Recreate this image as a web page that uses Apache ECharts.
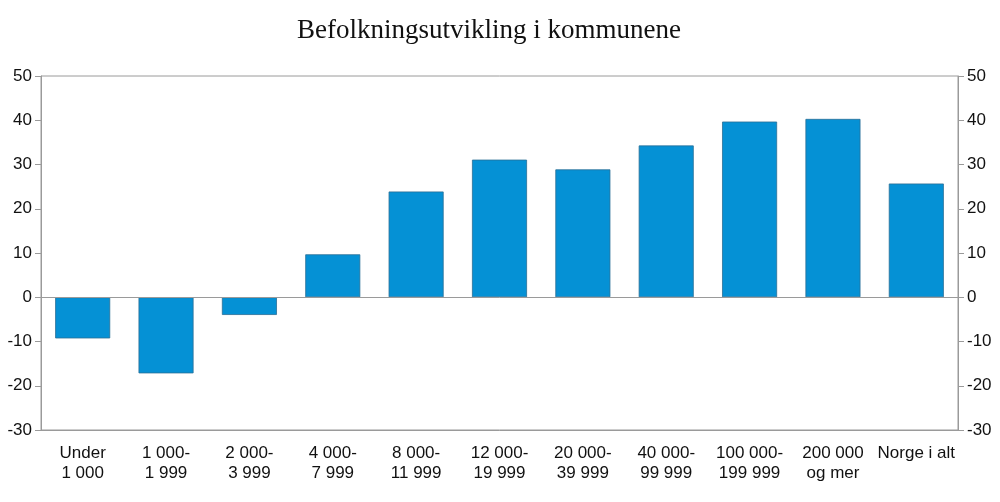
<!DOCTYPE html>
<html>
<head>
<meta charset="utf-8">
<script src="https://cdn.jsdelivr.net/npm/echarts@6/dist/echarts.min.js"></script>
<style>
  html, body { margin: 0; padding: 0; background: #fff; }
  #chart { width: 1000px; height: 502px; }
</style>
</head>
<body>
<div id="chart"></div>
<script>
// Data
const categories = [
  "Under\n1 000",
  "1 000-\n1 999",
  "2 000-\n3 999",
  "4 000-\n7 999",
  "8 000-\n11 999",
  "12 000-\n19 999",
  "20 000-\n39 999",
  "40 000-\n99 999",
  "100 000-\n199 999",
  "200 000\nog mer",
  "Norge i alt"
];
const values = [-9.3, -17.2, -4.0, 9.7, 23.9, 31.1, 28.9, 34.3, 39.7, 40.3, 25.7];

const axisGray = "#9a9a9a";
const font = "'Liberation Sans', Arial, sans-serif";

let dom = document.getElementById("chart");
let myChart = echarts.init(dom, null, { renderer: "canvas" });

function valueAxis(pos) {
  return {
    type: "value",
    position: pos,
    min: -30,
    max: 50,
    interval: 10,
    axisLine: { show: true, lineStyle: { color: axisGray, width: 1 } },
    axisTick: { show: true, length: 6, lineStyle: { color: axisGray } },
    axisLabel: { color: "#111", fontSize: 17, fontFamily: font, margin: 9 },
    splitLine: { show: false }
  };
}

let option = {
  animation: false,
  title: {
    text: "Befolkningsutvikling i kommunene",
    left: 292,
    top: 12,
    textStyle: {
      fontFamily: "'Liberation Serif', 'DejaVu Serif', serif",
      fontWeight: "normal",
      fontSize: 27,
      color: "#111"
    }
  },
  grid: {
    left: 41,
    right: 42,
    top: 76,
    bottom: 72,
    show: true,
    borderColor: axisGray,
    borderWidth: 1,
    containLabel: false
  },
  xAxis: {
    type: "category",
    data: categories,
    axisLine: { onZero: false, lineStyle: { color: axisGray } },
    axisTick: { show: false },
    axisLabel: {
      color: "#111",
      fontSize: 17,
      fontFamily: font,
      lineHeight: 20,
      margin: 13,
      interval: 0
    }
  },
  yAxis: [valueAxis("left"), valueAxis("right")],
  series: [
    {
      type: "bar",
      data: values,
      yAxisIndex: 0,
      barCategoryGap: "34%",
      itemStyle: {
        color: "#0591d5",
        borderColor: "#2a6f95",
        borderWidth: 0.8
      },
      markLine: {
        silent: true,
        symbol: "none",
        label: { show: false },
        lineStyle: { color: axisGray, type: "solid", width: 1 },
        data: [{ yAxis: 0 }]
      }
    }
  ]
};

myChart.setOption(option);

window.addEventListener("resize", function () {
  if (myChart) {
    myChart.resize();
  }
});
</script>
</body>
</html>
